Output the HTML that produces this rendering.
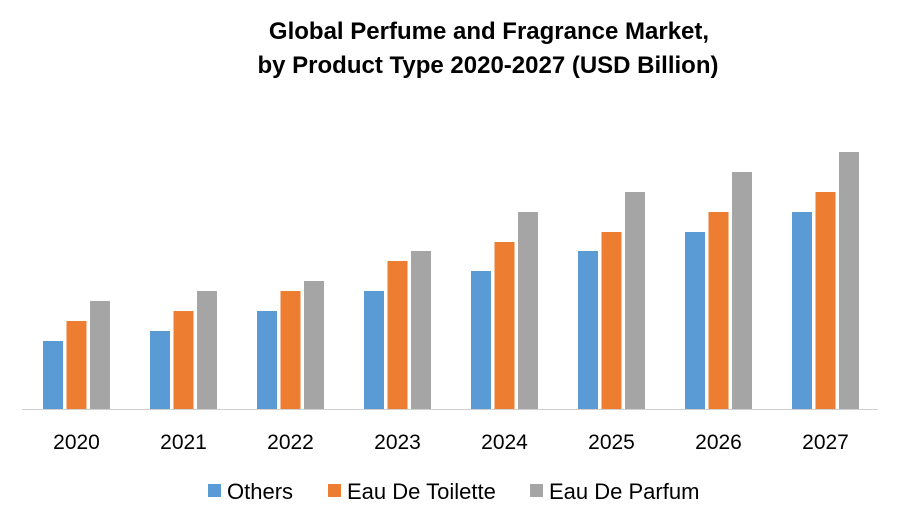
<!DOCTYPE html>
<html><head><meta charset="utf-8"><style>
body{margin:0;background:#fff;font-family:"Liberation Sans",sans-serif;}
#c{width:900px;height:525px;position:relative;}
</style></head><body>
<div id="c">
<svg id="s" width="900" height="525">
<text x="489" y="39" text-anchor="middle" font-size="24" font-weight="bold" fill="#000">Global Perfume and Fragrance Market,</text>
<text x="488" y="73" text-anchor="middle" font-size="24" font-weight="bold" fill="#000">by Product Type 2020-2027 (USD Billion)</text>
<line x1="22" y1="409.5" x2="878" y2="409.5" stroke="#d0d0d0" stroke-width="1"/>
<g id="bars"></g>
<g id="xl"></g>
<g id="lg"></g>
</svg></div>
<script>
const categories=["2020","2021","2022","2023","2024","2025","2026","2027"];
const others=[6.8,7.8,9.8,11.8,13.8,15.8,17.7,19.7];
const toilette=[8.8,9.8,11.8,14.8,16.7,17.7,19.7,21.7];
const parfum=[10.8,11.8,12.8,15.8,19.7,21.7,23.7,25.7];
const seriesNames=["Others","Eau De Toilette","Eau De Parfum"];
const colors=["#5B9BD5","#ED7D31","#A5A5A5"];
const series=[others,toilette,parfum];
const ns="http://www.w3.org/2000/svg";
const x0=23,x1=879,base=409,pxPer=10,bw=20,gap=3.5;
const band=(x1-x0)/categories.length;
const xC=i=>x0+band*(i+0.5);
const yS=v=>base-v*pxPer;
const bars=document.getElementById('bars'),xl=document.getElementById('xl'),lg=document.getElementById('lg');
categories.forEach((c,i)=>{
  series.forEach((s,j)=>{
    const r=document.createElementNS(ns,'rect');
    const x=xC(i)+(j-1)*(bw+gap)-bw/2;
    r.setAttribute('x',x);r.setAttribute('y',yS(s[i]));
    r.setAttribute('width',bw);r.setAttribute('height',base-yS(s[i]));
    r.setAttribute('fill',colors[j]);
    
    
    bars.appendChild(r);
  });
  const t=document.createElementNS(ns,'text');
  t.setAttribute('x',xC(i));t.setAttribute('y',449);t.setAttribute('text-anchor','middle');
  t.setAttribute('font-size','21');t.setAttribute('fill','#000');t.textContent=c;
  
  
  xl.appendChild(t);
});
const lx=[208,328,530];
seriesNames.forEach((n,j)=>{
  const r=document.createElementNS(ns,'rect');
  r.setAttribute('x',lx[j]);r.setAttribute('y',484);r.setAttribute('width',13);r.setAttribute('height',13);r.setAttribute('fill',colors[j]);
  
  
  lg.appendChild(r);
  const t=document.createElementNS(ns,'text');
  t.setAttribute('x',lx[j]+19);t.setAttribute('y',499);t.setAttribute('font-size','22');t.setAttribute('fill','#000');t.textContent=n;
  
  
  lg.appendChild(t);
});
</script>
</body></html>
